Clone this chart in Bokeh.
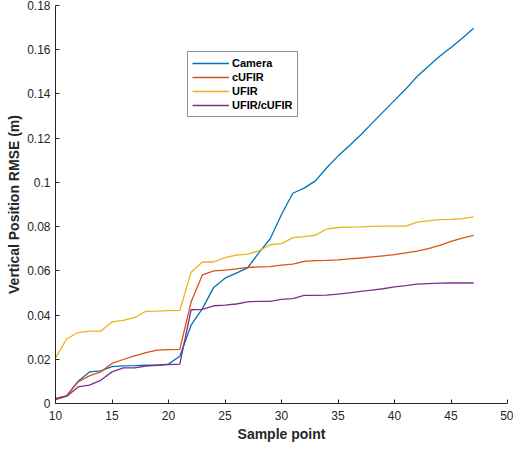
from bokeh.plotting import figure
from bokeh.models import Range1d, FixedTicker, Legend, LegendItem
from bokeh.embed import file_html
from bokeh.resources import INLINE

samples = list(range(10, 48))

camera = [0.0023, 0.0035, 0.0101, 0.0143, 0.0148, 0.0167, 0.0170, 0.0171, 0.0173, 0.0174,
          0.0178, 0.0214, 0.0354, 0.0429, 0.0525, 0.0567, 0.0590, 0.0613, 0.0682, 0.0745,
          0.0855, 0.0951, 0.0974, 0.1007, 0.1066, 0.1119, 0.1166, 0.1214, 0.1267, 0.1319,
          0.1371, 0.1422, 0.1479, 0.1525, 0.1570, 0.1610, 0.1652, 0.1697]
cufir = [0.0023, 0.0035, 0.0098, 0.0125, 0.0143, 0.0181, 0.0199, 0.0215, 0.0230, 0.0241,
         0.0244, 0.0245, 0.0459, 0.0582, 0.0600, 0.0603, 0.0609, 0.0615, 0.0618, 0.0619,
         0.0626, 0.0630, 0.0643, 0.0646, 0.0647, 0.0650, 0.0654, 0.0658, 0.0663, 0.0668,
         0.0673, 0.0681, 0.0689, 0.0700, 0.0715, 0.0733, 0.0748, 0.0760]
ufir = [0.0206, 0.0293, 0.0321, 0.0327, 0.0327, 0.0369, 0.0376, 0.0388, 0.0417, 0.0418,
        0.0420, 0.0421, 0.0594, 0.0640, 0.0640, 0.0660, 0.0671, 0.0676, 0.0690, 0.0718,
        0.0723, 0.0750, 0.0755, 0.0761, 0.0789, 0.0796, 0.0798, 0.0799, 0.0801, 0.0802,
        0.0802, 0.0802, 0.0820, 0.0826, 0.0832, 0.0833, 0.0836, 0.0844]
ufir_cufir = [0.0018, 0.0033, 0.0075, 0.0083, 0.0105, 0.0143, 0.0161, 0.0161, 0.0169, 0.0173,
              0.0176, 0.0178, 0.0424, 0.0426, 0.0442, 0.0445, 0.0450, 0.0460, 0.0462, 0.0462,
              0.0471, 0.0474, 0.0489, 0.0489, 0.0490, 0.0495, 0.0500, 0.0507, 0.0513, 0.0519,
              0.0527, 0.0533, 0.0540, 0.0542, 0.0544, 0.0545, 0.0545, 0.0545]

series_names = ["Camera", "cUFIR", "UFIR", "UFIR/cUFIR"]
series_colors = ["#0072BD", "#D95319", "#EDB120", "#7E2F8E"]

x_ticks = [10, 15, 20, 25, 30, 35, 40, 45, 50]
y_ticks = [0, 0.02, 0.04, 0.06, 0.08, 0.1, 0.12, 0.14, 0.16, 0.18]
y_tick_labels = ["0", "0.02", "0.04", "0.06", "0.08", "0.1", "0.12", "0.14", "0.16", "0.18"]

FONT = "Liberation Sans"
AX = "#262626"

p = figure(width=513, height=444, output_backend="svg", toolbar_location=None,
           x_range=Range1d(10, 50), y_range=Range1d(0, 0.18),
           min_border_left=55, min_border_right=6, min_border_top=5, min_border_bottom=38)
p.outline_line_color = None
p.grid.visible = False
p.background_fill_color = "white"
p.border_fill_color = "white"

lines = []
for name, ys, col in zip(series_names, [camera, cufir, ufir, ufir_cufir], series_colors):
    r = p.line(samples, ys, line_color=col, line_width=1.3)
    lines.append(LegendItem(label=name, renderers=[r]))

for ax in (p.xaxis[0], p.yaxis[0]):
    ax.axis_line_color = AX
    ax.major_tick_line_color = AX
    ax.major_tick_in = 4
    ax.major_tick_out = 0
    ax.minor_tick_line_color = None
    ax.major_label_text_font = FONT
    ax.major_label_text_font_size = "12px"
    ax.major_label_text_color = AX
    ax.axis_label_text_font = FONT
    ax.axis_label_text_font_size = "14px"
    ax.axis_label_text_font_style = "bold"
    ax.axis_label_text_color = AX

p.xaxis.ticker = FixedTicker(ticks=x_ticks)
p.yaxis.ticker = FixedTicker(ticks=y_ticks)
p.yaxis.major_label_overrides = dict(zip(y_ticks, y_tick_labels))
p.xaxis.axis_label = "Sample point"
p.yaxis.axis_label = "Vertical Position RMSE (m)"
p.xaxis.major_label_standoff = 7
p.yaxis.major_label_standoff = 5
p.xaxis.axis_label_standoff = 3
p.yaxis.axis_label_standoff = 2

legend = Legend(items=lines, location=(132, 286))
legend.label_text_font = FONT
legend.label_text_font_size = "11px"
legend.label_text_font_style = "bold"
legend.label_text_color = "black"
legend.border_line_color = AX
legend.border_line_width = 1
legend.background_fill_color = "white"
legend.background_fill_alpha = 1
legend.padding = 4
legend.spacing = 0
legend.margin = 0
legend.label_height = 14
legend.glyph_height = 14
legend.glyph_width = 37
legend.label_standoff = 3
p.add_layout(legend, "center")

open("out.html", "w").write(file_html(p, INLINE))
